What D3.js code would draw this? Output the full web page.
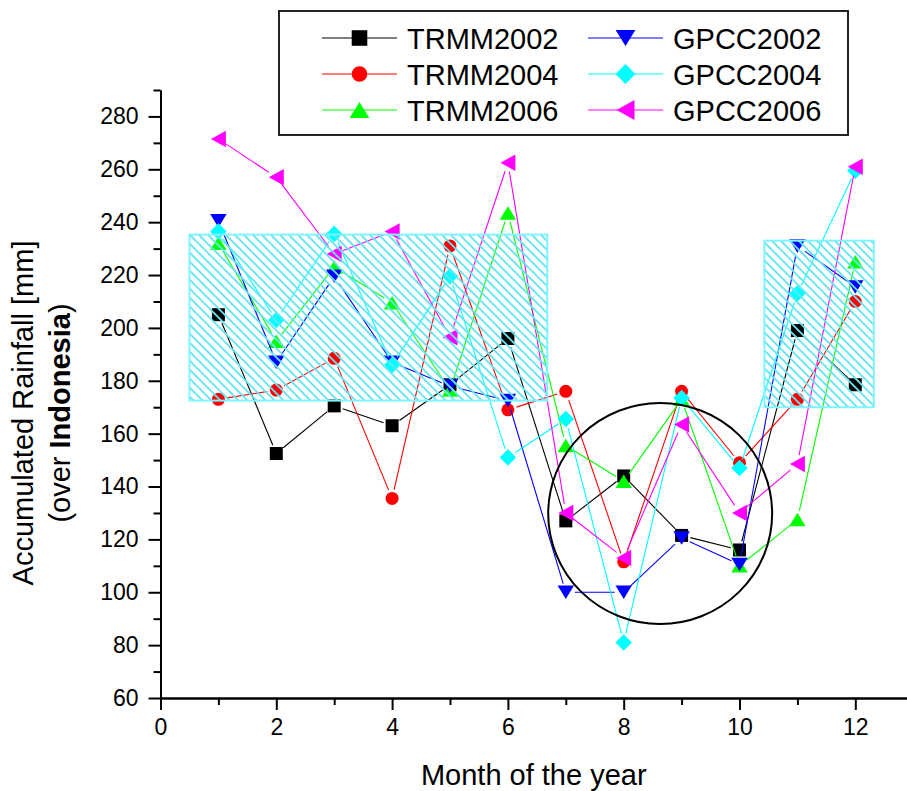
<!DOCTYPE html>
<html>
<head>
<meta charset="utf-8">
<script src="https://cdn.jsdelivr.net/npm/d3@7/dist/d3.min.js"></script>
<style>
  html, body { margin: 0; padding: 0; background: #fff; }
  svg { display: block; font-family: "Liberation Sans", Arial, Helvetica, sans-serif; }
</style>
</head>
<body>
<svg id="chart" width="907" height="791"></svg>
<script>
// Monthly accumulated rainfall over Indonesia (mm), TRMM vs GPCC
const months = [1, 2, 3, 4, 5, 6, 7, 8, 9, 10, 11, 12];
const trmm2002 = [205, 152.5, 170.5, 163, 178.5, 196, 127, 144, 121.5, 116, 199, 178.5];
const trmm2004 = [173, 176.5, 188.5, 135.5, 231, 169, 176, 111.5, 176, 149, 173, 210];
const trmm2006 = [232, 195, 223, 209.5, 176.5, 243.5, 155.5, 142, 173, 110, 127.5, 225];
const gpcc2002 = [240.5, 187, 219.5, 187, 178, 172.5, 100, 100, 120.5, 110.5, 231, 215.5];
const gpcc2004 = [236.5, 203, 235.5, 186, 219.5, 151, 165.5, 81, 173.5, 147, 213, 259.5];
const gpcc2006 = [271.5, 257, 228, 236.5, 196.5, 262.5, 130, 113, 163.5, 130, 148.5, 261];
const seriesNames = ["TRMM2002", "TRMM2004", "TRMM2006", "GPCC2002", "GPCC2004", "GPCC2006"];

const xTicks = [0, 2, 4, 6, 8, 10, 12];
const xMinorTicks = [1, 3, 5, 7, 9, 11];
const yTicks = [60, 80, 100, 120, 140, 160, 180, 200, 220, 240, 260, 280];
const yMinorTicks = [70, 90, 110, 130, 150, 170, 190, 210, 230, 250, 270, 290];

// Highlighted regions (data units)
const wetBoxes = [
  { x0: 0.5, x1: 6.68, y0: 172.5, y1: 235.3 },
  { x0: 10.43, x1: 12.32, y0: 170, y1: 233 }
];
const dryEllipse = { cx: 8.63, cy: 129.8, rx: 1.934, ry: 41.8 };

const svg = d3.select("#chart");

const x = d3.scaleLinear().domain([0, 13]).range([160.5, 913.2]);
const y = d3.scaleLinear().domain([60, 290]).range([698, 90]);

// hatch pattern for the highlighted boxes
const defs = svg.append("defs");
const pat = defs.append("pattern")
  .attr("id", "hatch").attr("patternUnits", "userSpaceOnUse")
  .attr("width", 9).attr("height", 9);
pat.append("path")
  .attr("d", "M0,0 L9,9 M-2,7 L2,11 M7,-2 L11,2")
  .attr("stroke", "#62e6f2").attr("stroke-width", 1.9);

// axes
const axisG = svg.append("g");
const yAxis = d3.axisLeft(y).tickValues(yTicks).tickSize(12).tickSizeOuter(0).tickPadding(10);
const yMinor = d3.axisLeft(y).tickValues(yMinorTicks).tickSize(7).tickSizeOuter(0).tickFormat("");
const xAxis = d3.axisBottom(x).tickValues(xTicks).tickSize(12).tickSizeOuter(0).tickPadding(9);
const xMinor = d3.axisBottom(x).tickValues(xMinorTicks).tickSize(7).tickSizeOuter(0).tickFormat("");

function styleAxis(g) {
  g.select(".domain").attr("stroke", "#000").attr("stroke-width", 2);
  g.selectAll(".tick line").attr("stroke", "#000").attr("stroke-width", 2);
  g.selectAll(".tick text").attr("fill", "#000").style("font-size", "23px")
    .style("font-family", "'Liberation Sans', Arial, sans-serif");
}
axisG.append("g").attr("transform", `translate(${x(0)},0)`).call(yMinor).call(styleAxis);
axisG.append("g").attr("transform", `translate(${x(0)},0)`).call(yAxis).call(styleAxis);
axisG.append("g").attr("transform", `translate(0,${y(60)})`).call(xMinor).call(styleAxis);
axisG.append("g").attr("transform", `translate(0,${y(60)})`).call(xAxis).call(styleAxis);

// marker shapes
const markers = {
  square: s => `M${-s/2},${-s/2}h${s}v${s}h${-s}Z`,
  circle: s => `M${s/2},0A${s/2},${s/2} 0 1,1 ${-s/2},0A${s/2},${s/2} 0 1,1 ${s/2},0Z`,
  up: s => `M0,${-s*0.45}L${s*0.55},${s*0.45}L${-s*0.55},${s*0.45}Z`,
  down: s => `M0,${s*0.45}L${s*0.55},${-s*0.45}L${-s*0.55},${-s*0.45}Z`,
  diamond: s => `M0,${-s*0.55}L${s*0.55},0L0,${s*0.55}L${-s*0.55},0Z`,
  left: s => `M${-s*0.5},0L${s*0.5},${-s*0.55}L${s*0.5},${s*0.55}Z`
};

const series = [
  { name: seriesNames[0], values: trmm2002, color: "#000000", shape: "square", size: 13 },
  { name: seriesNames[1], values: trmm2004, color: "#ff0000", shape: "circle", size: 13 },
  { name: seriesNames[2], values: trmm2006, color: "#00ff00", shape: "up", size: 15 },
  { name: seriesNames[3], values: gpcc2002, color: "#0000ff", shape: "down", size: 15 },
  { name: seriesNames[4], values: gpcc2004, color: "#00ffff", shape: "diamond", size: 15 },
  { name: seriesNames[5], values: gpcc2006, color: "#ff00ff", shape: "left", size: 15 }
];

// connecting lines stop short of the markers
const gap = 9;
const plotG = svg.append("g");
series.forEach(s => {
  const g = plotG.append("g");
  const pts = months.map((m, i) => [x(m), y(s.values[i])]);
  for (let i = 0; i < pts.length - 1; i++) {
    const [x1, y1] = pts[i], [x2, y2] = pts[i + 1];
    const len = Math.hypot(x2 - x1, y2 - y1);
    if (len <= 2 * gap) continue;
    const ux = (x2 - x1) / len, uy = (y2 - y1) / len;
    g.append("line")
      .attr("x1", x1 + ux * gap).attr("y1", y1 + uy * gap)
      .attr("x2", x2 - ux * gap).attr("y2", y2 - uy * gap)
      .attr("stroke", s.color).attr("stroke-width", 1.1);
  }
  g.selectAll("path.mk").data(months).join("path")
    .attr("class", "mk")
    .attr("transform", (m, i) => `translate(${x(m)},${y(s.values[i])})`)
    .attr("d", markers[s.shape](s.size))
    .attr("fill", s.color);
});

// highlighted wet-season boxes
svg.append("g").selectAll("rect").data(wetBoxes).join("rect")
  .attr("x", d => x(d.x0)).attr("y", d => y(d.y1))
  .attr("width", d => x(d.x1) - x(d.x0)).attr("height", d => y(d.y0) - y(d.y1))
  .attr("fill", "url(#hatch)").attr("stroke", "#7ff4ff").attr("stroke-width", 2);

// dry-season ellipse
svg.append("ellipse")
  .attr("cx", x(dryEllipse.cx)).attr("cy", y(dryEllipse.cy))
  .attr("rx", x(dryEllipse.cx + dryEllipse.rx) - x(dryEllipse.cx))
  .attr("ry", y(dryEllipse.cy - dryEllipse.ry) - y(dryEllipse.cy))
  .attr("fill", "none").attr("stroke", "#000").attr("stroke-width", 2);

// axis titles
svg.append("text")
  .attr("x", (x(0) + 907) / 2).attr("y", 785)
  .attr("text-anchor", "middle").style("font-size", "29px").attr("fill", "#000")
  .text("Month of the year");

const yt = svg.append("g").attr("transform", "translate(0,413) rotate(-90)");
yt.append("text").attr("x", 0).attr("y", 33)
  .attr("text-anchor", "middle").style("font-size", "29px").attr("fill", "#000")
  .text("Accumulated Rainfall [mm]");
const yt2 = yt.append("text").attr("x", 0).attr("y", 70)
  .attr("text-anchor", "middle").style("font-size", "29px").attr("fill", "#000");
yt2.append("tspan").text("(over ");
yt2.append("tspan").style("font-weight", "bold").text("Indonesia");
yt2.append("tspan").text(")");

// legend
const legend = svg.append("g");
legend.append("rect")
  .attr("x", 279).attr("y", 11).attr("width", 569).attr("height", 124)
  .attr("fill", "#fff").attr("stroke", "#222").attr("stroke-width", 2);
const legendCols = [322, 588];
const legendRows = [38, 74, 110];
series.forEach((s, i) => {
  const lx = legendCols[Math.floor(i / 3)];
  const ly = legendRows[i % 3];
  const g = legend.append("g");
  g.append("line").attr("x1", lx).attr("x2", lx + 75).attr("y1", ly).attr("y2", ly)
    .attr("stroke", s.color).attr("stroke-width", 1.2);
  g.append("path").attr("transform", `translate(${lx + 37.5},${ly})`)
    .attr("d", markers[s.shape](s.size * 1.2)).attr("fill", s.color);
  g.append("text").attr("x", lx + 85).attr("y", ly + 10.5)
    .style("font-size", "29px").attr("fill", "#000").text(s.name);
});
</script>
</body>
</html>
